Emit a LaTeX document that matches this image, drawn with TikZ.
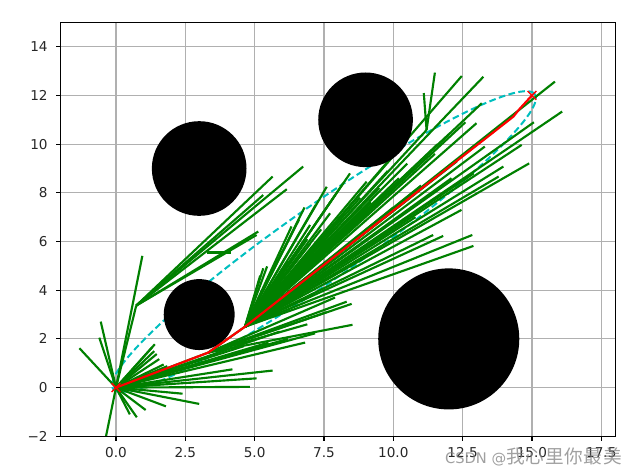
\documentclass[tikz,border=0pt]{standalone}
\usepackage{fontspec}
\usetikzlibrary{calc}
\setmainfont{DejaVu Sans}
\newfontfamily\cjkfont[LetterSpace=4]{Noto Sans CJK SC}
\definecolor{mgreen}{HTML}{008000}
\definecolor{mcyan}{HTML}{00BFBF}
\definecolor{mgrid}{HTML}{B0B0B0}
\definecolor{mtext}{HTML}{262626}
\tikzset{
  gridline/.style={draw=mgrid,line width=0.85pt},
  edge/.style={draw=mgreen,line width=1.6pt},
  pathline/.style={draw=red,line width=1.6pt,line join=round},
  ellipseline/.style={draw=mcyan,line width=1.5pt,dash pattern=on 5pt off 2.6pt},
  obstacle/.style={fill=black},
  spine/.style={draw=black,line width=0.85pt},
  tickmark/.style={draw=black,line width=0.85pt},
  ylab/.style={anchor=east,inner sep=0pt,xshift=-9.5pt,font=\fontsize{10.2pt}{12pt}\selectfont,text=mtext},
  xlab/.style={anchor=north,inner sep=0pt,yshift=-8.2pt,font=\fontsize{10.2pt}{12pt}\selectfont,text=mtext},
  xmark/.style={draw=red,line width=1pt}
}
\begin{document}
\begin{tikzpicture}[x=20.80pt,y=18.26pt]
\useasboundingbox (-4.183,-3.503) rectangle (18.464,15.922);
% grid
\foreach \gx in {0,2.5,5,7.5,10,12.5,15,17.5} \draw[gridline] (\gx,-2) -- (\gx,15);
\foreach \gy in {-2,0,2,4,6,8,10,12,14} \draw[gridline] (-2,\gy) -- (18,\gy);
% tree nodes
\coordinate (S) at (0,0);
\coordinate (A) at (3.33,1.44);
\coordinate (B) at (4.65,2.5);
\coordinate (C) at (0.73,3.37);
\coordinate (H) at (3.27,5.55);
\coordinate (V) at (11.2,10.58);
\coordinate (P) at (14.33,11.13);
\coordinate (Q) at (14.57,11.47);
\coordinate (G) at (15,12);
\coordinate (R) at (7.12,5.72);
\begin{scope}
\clip (-2,-2) rectangle (18,15);
% ellipse
\draw[ellipseline] plot[domain=0:360,samples=120,smooth]
  ({7.5+9.72*cos(\x)*0.7809-1.45*sin(\x)*0.6247},{6+9.72*cos(\x)*0.6247+1.45*sin(\x)*0.7809});
% random sample
\fill[black] ($(R)+(0,2pt)$) -- ($(R)+(-1.8pt,-1.2pt)$) -- ($(R)+(1.8pt,-1.2pt)$) -- cycle;
% tree
\draw[edge] (S) -- (A) -- (B);
\draw[edge] (S) -- (C);
\foreach \p in {(-0.55,2.71),(-0.6,2.05),(-1.32,1.62),(-0.45,-2.5),(0.95,5.41),
  (0.5,-1.1),(0.75,-1.22),(1.07,-0.92),(1.8,-0.77),(3.0,-0.67),(2.4,-0.25),
  (4.83,0.03),(5.07,0.38),(5.65,0.7),(4.2,0.75),
  (1.3,1.65),(1.4,1.78),(1.38,1.5),(1.47,1.38),(1.56,1.17),(1.72,0.95),(1.85,0.88),
  (6.82,1.85),(7.18,2.23),(6.2,2.0),(5.5,1.85),(4.6,1.7),(5.9,2.3)}
  \draw[edge] (S) -- \p;
\foreach \p in {(8.5,3.44),(8.32,3.53),(8.53,2.58),(7.6,3.1),(6.9,2.6),(7.9,3.7)}
  \draw[edge] (A) -- \p;
\foreach \p in {(5.65,8.67),(6.75,9.08),(6.16,8.15),(5.31,7.91),(5.13,6.41),(5.07,6.27)}
  \draw[edge] (C) -- \p;
\draw[edge] (H) -- (4.15,5.55);
\foreach \p in {(5.31,4.9),(5.45,4.98),(5.2,4.6),(6.33,6.62),(7.0,6.68),(7.72,7.16),
  (7.6,8.25),(8.44,8.8),(9.04,8.46),(6.9,6.1),(8.1,7.0),
  (6.0,5.6),(6.6,6.9),(7.2,7.5),(7.9,7.9),(8.2,8.4),(6.8,7.4),(7.4,6.5),
  (8.8,7.8),(9.5,8.2),(10.2,8.6),(6.2,5.2),(7.0,5.9),
  (12.47,12.8),(13.25,12.77),(13.19,11.68),(13.0,10.86),(V),(15.83,12.57),
  (16.09,11.34),(15.07,10.9),(14.63,9.97),(14.9,9.21),(13.97,9.08),(13.8,8.67),
  (12.46,7.3),(12.85,6.27),(12.89,5.82),(11.8,6.23),(11.44,6.27),
  (12.0,10.4),(12.6,10.9),(11.5,9.6),(10.5,9.2),(13.6,10.5),(12.3,9.3),
  (11.0,8.3),(10.0,7.4),(12.9,8.8),(9.8,8.9),(10.3,9.9),(9.2,7.6),(10.8,7.0),
  (11.6,10.0),(13.3,9.9),(12.1,8.6),(10.6,7.8)}
  \draw[edge] (B) -- \p;
\draw[edge] (V) -- (11.5,12.94);
\draw[edge] (V) -- (11.1,12.1);
% obstacles
\fill[obstacle] (3,9) circle[radius=35.5pt];
\fill[obstacle] (3,3) circle[radius=26.6pt];
\fill[obstacle] (9,11) circle[radius=35.5pt];
\fill[obstacle] (12,2) circle[radius=52.9pt];
% start / goal markers
\draw[xmark] ($(S)+(-3.3pt,-3.3pt)$) -- ($(S)+(3.3pt,3.3pt)$);
\draw[xmark] ($(S)+(-3.3pt,3.3pt)$) -- ($(S)+(3.3pt,-3.3pt)$);
\draw[xmark] ($(G)+(-3.3pt,-3.3pt)$) -- ($(G)+(3.3pt,3.3pt)$);
\draw[xmark] ($(G)+(-3.3pt,3.3pt)$) -- ($(G)+(3.3pt,-3.3pt)$);
% final path
\draw[pathline] (S) -- (A) -- (B) -- (P) -- (Q) -- (G);
\end{scope}
% spines
\draw[spine] (-2,-2) rectangle (18,15);
% ticks and labels
\foreach \gx/\lab in {0/0.0,2.5/2.5,5/5.0,7.5/7.5,10/10.0,12.5/12.5,15/15.0,17.5/17.5}{
  \draw[tickmark] (\gx,-2) -- ++(0,-3.6pt);
  \node[xlab] (xl\gx) at (\gx,-2) {\lab};
}
\foreach \gy/\lab in {-2/−2,0/0,2/2,4/4,6/6,8/8,10/10,12/12,14/14}{
  \draw[tickmark] (-2,\gy) -- ++(-3.6pt,0);
  \node[ylab] (yl\gy) at (-2,\gy) {\lab};
}
% watermark
\node[anchor=west,inner sep=0pt,text=black!50,opacity=0.75] (wm) at (11.86,-2.85) {\fontsize{11pt}{13pt}\selectfont CSDN @{\fontsize{14pt}{16pt}\cjkfont 我心里你最美}};
\end{tikzpicture}
\end{document}
